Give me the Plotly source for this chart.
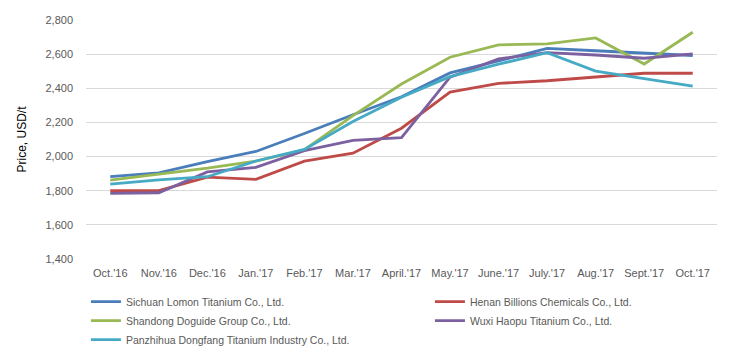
import plotly.graph_objects as go

months = ["Oct.'16", "Nov.'16", "Dec.'16", "Jan.'17", "Feb.'17", "Mar.'17", "April.'17",
          "May.'17", "June.'17", "July.'17", "Aug.'17", "Sept.'17", "Oct.'17"]

sichuan = [1882, 1905, 1970, 2030, 2135, 2245, 2350, 2490, 2560, 2634, 2620, 2605, 2592]
henan = [1800, 1800, 1880, 1867, 1973, 2020, 2166, 2378, 2429, 2444, 2466, 2488, 2488]
shandong = [1862, 1898, 1932, 1974, 2040, 2240, 2425, 2582, 2654, 2660, 2695, 2542, 2728]
wuxi = [1785, 1788, 1910, 1937, 2035, 2095, 2111, 2465, 2572, 2609, 2595, 2576, 2601]
panzhihua = [1839, 1863, 1882, 1974, 2042, 2205, 2347, 2468, 2541, 2609, 2501, 2456, 2412]

series = [
    ("Sichuan Lomon Titanium Co., Ltd.", sichuan, "#4A7EBB"),
    ("Henan Billions Chemicals Co., Ltd.", henan, "#BE4B48"),
    ("Shandong Doguide Group Co., Ltd.", shandong, "#98B954"),
    ("Wuxi Haopu Titanium Co., Ltd.", wuxi, "#7D60A0"),
    ("Panzhihua Dongfang Titanium Industry Co., Ltd.", panzhihua, "#46AAC5"),
]

fig = go.Figure()
for name, vals, color in series:
    fig.add_trace(go.Scatter(x=months, y=vals, name=name, mode="lines",
                             line=dict(color=color, width=2.8)))

font_family = "Liberation Sans, Arial, sans-serif"
fig.update_layout(
    width=739, height=355,
    margin=dict(l=86, r=22, t=20, b=96, autoexpand=False),
    paper_bgcolor="white", plot_bgcolor="white",
    font=dict(family=font_family, size=11, color="#595959"),
    showlegend=True,
    legend=dict(orientation="h", x=-0.0001, xanchor="left", y=-0.118, yanchor="top",
                entrywidth=299, entrywidthmode="pixels",
                font=dict(size=10.5, color="#595959"), bgcolor="rgba(0,0,0,0)",
                tracegroupgap=0, itemclick=False),
)
fig.update_xaxes(type="category", range=[-0.5, len(months) - 0.5], showgrid=False,
                 showline=False, zeroline=False,
                 ticks="", tickfont=dict(size=11, color="#595959"), ticklabelstandoff=6)
fig.update_yaxes(range=[1400, 2800], dtick=200, tickformat=",", showgrid=True,
                 gridcolor="#D9D9D9", gridwidth=1, zeroline=False, showline=False,
                 ticks="", ticklabelstandoff=12, tickfont=dict(size=11, color="#595959"),
                 title=dict(text="Price, USD/t", font=dict(size=12, color="#000000"), standoff=16))

fig.write_html("out.html", config={"displayModeBar": False},
               post_script="document.body.style.margin='0';")
